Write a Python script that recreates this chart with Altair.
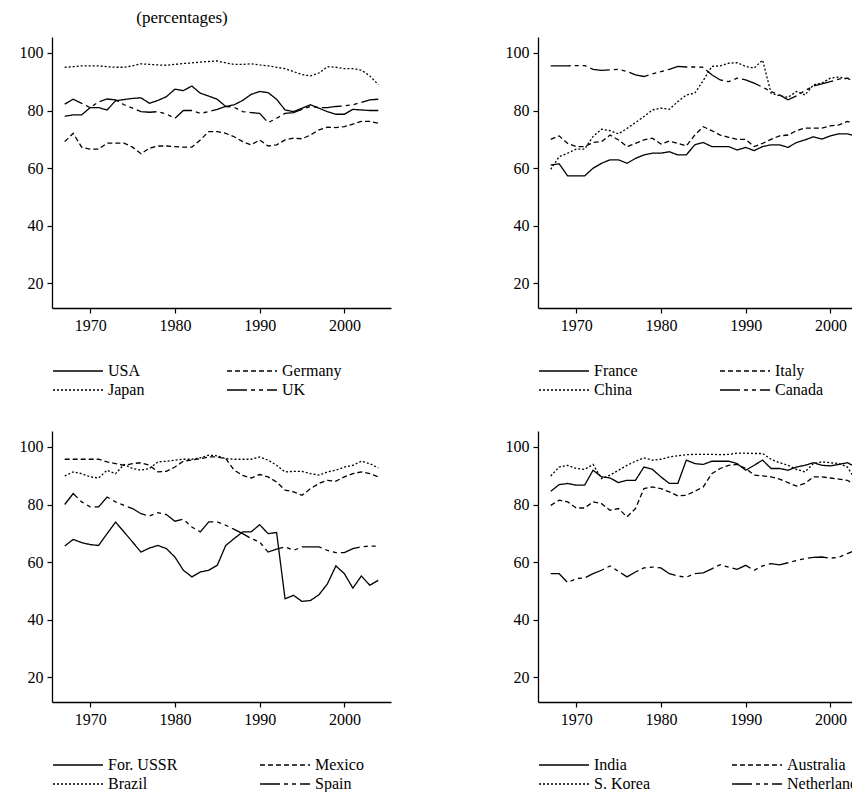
import altair as alt
import pandas as pd

years = list(range(1967, 2005))
x_ticks = [1970, 1980, 1990, 2000]
y_ticks = [20, 40, 60, 80, 100]

# Panel 1
usa = [78,78.5,78.5,81,81,80.2,83.4,83.8,84.2,84.4, 82.5,83.5,84.8,87.4,86.9,88.5,86,85,83.9,81.4,
       82,83.5,85.6,86.6,86.2,83.9,80.2,79.6,80.8,82, 80.8,79.6,78.7,78.7,80.4,80.2,80,80]
germany = [69.2,72.1,67.3,66.6,66.6,68.7,68.7,68.7,67.3,65, 66.9,67.7,67.7,67.5,67.3,67.3,69.8,72.7,72.7,72.1,
           70.9,69.2,68.1,69.8,67.7,68.1,69.8,70.4,70.2,71.5, 73.3,74.2,74.1,74.4,75.3,76.2,76.2,75.6]
japan = [95,95.2,95.5,95.5,95.5,95.2,95,95,95.5,96.2, 96,95.8,95.7,96,96.3,96.5,96.8,97,97.2,96.5,
         96,96,96.2,95.8,95.5,95,94.5,93.5,92.5,92, 93,95.2,95,94.5,94.5,94,92,89]
uk = [82.2,83.9,82.5,81,83,84,83.7,82,80.8,79.6, 79.4,79.6,78.8,77.3,80,80,79,79.6,80.4,81.4,
      81.1,79.6,79.3,79,75.8,77.3,79,79.3,80.4,81.4, 81,81,81.4,81.6,82,82.8,83.7,83.9]

# Panel 2
france = [61.1,61.5,57.3,57.3,57.3,60.0,61.7,62.9,62.9,61.7, 63.4,64.6,65.2,65.2,65.7,64.6,64.6,68.1,68.9,67.5,
          67.5,67.5,66.3,67.2,66.1,67.5,68.1,68.1,67.2,68.9, 69.8,70.9,70.1,71.2,71.9,71.9,71.2,71.2]
italy = [70.0,71.2,68.6,67.5,67.5,68.9,69.2,71.5,69.8,67.5, 68.6,69.8,70.4,68.4,69.4,68.6,67.7,71.5,74.4,73.0,
         71.5,70.7,70.0,70.0,67.5,68.6,70.0,71.2,71.5,73.0, 73.9,73.9,73.9,74.7,75.0,76.2,75.4,75.0]
china = [59.6,64,65.2,66.6,66.6,71,73.5,73,71.9,73.8, 75.8,77.9,80.2,80.8,80.4,83.1,85.4,86,90.4,95.3,
         95.5,96.4,96.6,95.3,94.7,97.5,86,85.1,84.6,86.6, 85.4,88.9,89.5,91.2,91.6,90.9,90.6,90]
canada = [95.5,95.5,95.5,95.6,95.6,94.3,93.9,94.1,94.3,93.5, 92.4,91.8,92.7,93.5,94.3,95.3,95.1,95.1,95,92.4,
          90.6,90,91.2,90.6,89.5,88.1,86.6,85.4,83.7,85.1, 86.9,88.5,89.2,90,90.9,91.2,90.9,90]

# Panel 3
ussr = [65.6,67.9,66.8,66.1,65.8,69.9,73.9,70.5,67,63.5, 64.9,65.8,64.7,61.8,57.2,54.9,56.6,57.2,58.9,65.8,
        68.2,70.5,70.5,73,69.9,70.3,47.3,48.5,46.4,46.7, 48.7,52.5,58.7,56,51,55.2,52,53.7]
mexico = [95.7,95.7,95.7,95.7,95.7,94.8,94.2,93.6,94.2,94.5, 93.6,91.3,91.5,93,95,95.4,95.9,96.5,96.5,95.9,
          91.9,90.1,89.2,90.4,89.6,87.8,85,84.4,83.2,85.5, 87.3,88.4,88.1,89.6,90.7,91.3,90.7,89.6]
brazil = [89.9,91.3,90.7,89.6,89.2,91.9,90.7,93.9,92.5,91.9, 92.5,94.8,95,95.4,95.7,95.7,96.2,97.1,96.9,95.9,
          95.7,95.7,95.7,96.5,95.4,93.6,91.3,91.5,91.5,90.7, 90.2,91.3,91.9,93,93.6,95,94.2,92.7]
spain = [80,83.8,80.9,79.2,79.2,82.6,80.9,79.7,78.6,76.8, 76,77.2,76.5,74.2,74.9,72.2,70.5,74,74,72.8,
         71.4,69.9,68.2,67,63.5,64.5,65.3,64.1,65.3,65.3, 65.3,64.1,63.3,63.3,64.7,65.3,65.6,65.6]

# Panel 4
india = [84.6,86.9,87.3,86.7,86.7,91.9,89.6,89.2,87.6,88.4, 88.4,93,92.2,89.6,87.3,87.3,95.4,94.2,93.9,95,
         95,95,94.2,91.9,93.6,95.4,92.5,92.5,91.9,93.0, 93.6,94.5,93.6,93.4,93.9,94.5,93,91.7]
australia = [79.7,81.5,80.9,78.8,78.8,80.9,80.3,78,78.6,75.7, 78.6,85.5,86.1,85.5,84.4,83,83.2,84.6,86.1,90.7,
             92.5,93.6,93.9,92.5,90.2,89.9,89.6,88.8,87.6,86.4, 87.3,89.6,89.6,89.2,88.8,88.4,86.7,84.9]
skorea = [89.9,93,93.6,92.5,92.2,93.9,89,90.2,91.9,93.6, 95,96.2,95.4,95.7,96.5,96.9,97.3,97.4,97.4,97.4,
          97.3,97.4,97.8,97.8,97.7,97.7,95.7,94.5,93.6,92.2, 91.3,94.2,94.8,94.5,94.2,93,88.4,86.7]
netherlands = [56,56,52.9,54.3,54.5,56,57.2,58.7,56.8,54.9, 56.6,58,58.3,58,56,55.2,54.8,56,56.3,57.7,
               59.1,58.3,57.5,58.9,57.2,58.7,59.5,59.1,59.8,60.6, 61.2,61.7,61.8,61.4,61.7,63,64.1,63.9]

# dash styles: solid, dashed, dotted, long-dash-dash
DASHES = [[1, 0], [5, 3], [2, 2], [20, 4, 4, 4, 4, 4]]
FONT = "Liberation Serif"


def panel(names, series, title=None):
    rows = []
    for n, s in zip(names, series):
        for y, v in zip(years, s):
            rows.append({"year": y, "value": v, "series": n})
    df = pd.DataFrame(rows)
    # legend lays out column-major: order so rows read name0,name1 / name2,name3
    order = [names[0], names[2], names[1], names[3]]
    dashes = [DASHES[0], DASHES[2], DASHES[1], DASHES[3]]
    lines = alt.Chart(df).mark_line(color="black", strokeWidth=1.3).encode(
        x=alt.X("year:Q", scale=alt.Scale(domain=[1965.5, 2005.5], nice=False, zero=False),
                axis=alt.Axis(values=x_ticks, format="d", title=None)),
        y=alt.Y("value:Q", scale=alt.Scale(domain=[11.5, 105.5], nice=False, zero=False),
                axis=alt.Axis(values=y_ticks, title=None)),
        strokeDash=alt.StrokeDash("series:N",
            scale=alt.Scale(domain=order, range=dashes),
            legend=alt.Legend(title=None, orient="none", legendX=0, legendY=323,
                              columns=2, symbolType="M-1,0H4", symbolSize=400,
                              symbolStrokeWidth=1.3, symbolStrokeColor="black",
                              symbolFillColor="transparent",
                              labelFont=FONT, labelFontSize=16, labelColor="black",
                              labelOffset=34, columnPadding=79, rowPadding=0)),
        detail="series:N",
    )
    ch = lines
    if title:
        t = alt.Chart(pd.DataFrame({"t": [title]})).mark_text(
            font=FONT, fontSize=17, color="black").encode(
            text="t:N", x=alt.value(130), y=alt.value(-19))
        ch = alt.layer(lines, t)
    return ch.properties(width=339, height=271)


p1 = panel(["USA", "Germany", "Japan", "UK"], [usa, germany, japan, uk], "(percentages)")
p2 = panel(["France", "Italy", "China", "Canada"], [france, italy, china, canada])
p3 = panel(["For. USSR", "Mexico", "Brazil", "Spain"], [ussr, mexico, brazil, spain])
p4 = panel(["India", "Australia", "S. Korea", "Netherlands"], [india, australia, skorea, netherlands])

row1 = alt.hconcat(p1, p2, spacing=114).resolve_scale(strokeDash="independent")
row2 = alt.hconcat(p3, p4, spacing=114).resolve_scale(strokeDash="independent")
chart = alt.vconcat(row1, row2, spacing=33).resolve_scale(
    strokeDash="independent"
).properties(padding={"left": 11, "top": 1, "right": -25, "bottom": 0}).configure_view(
    stroke=None
).configure_axis(
    grid=False, domainColor="black", tickColor="black", labelColor="black",
    labelFont=FONT, labelFontSize=16, tickSize=5, domainWidth=1.3, tickWidth=1.2,
    labelPadding=4
)

chart.save("out.html", embed_options={"renderer": "svg", "actions": False})
